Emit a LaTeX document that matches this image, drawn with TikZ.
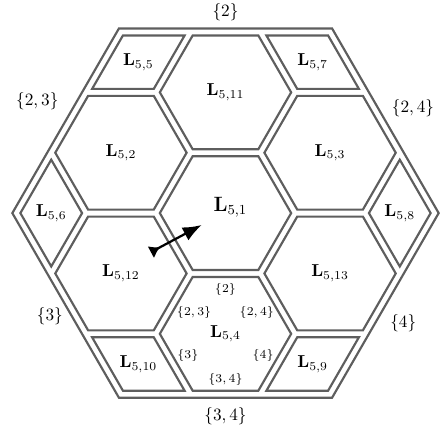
\documentclass[tikz,border=0pt]{standalone}
\usepackage{tikz}
\usetikzlibrary{arrows.meta}
\definecolor{hxgray}{HTML}{5E5E5E}
\definecolor{hxink}{HTML}{000000}
\tikzset{
  hxcell/.style={draw=hxgray, line width=1.25pt, line join=miter},
  hxname/.style={font=\normalsize, text=hxink, inner sep=1pt},
  hxset/.style={font=\normalsize, text=hxink, inner sep=1pt},
  hxsub/.style={font=\scriptsize, text=hxink, inner sep=1pt},
  hxarrow/.style={{Latex[reversed, length=6pt, width=8pt]}-{Latex[length=11pt, width=8.5pt]},
    draw=hxink, line width=1.3pt},
}

\begin{document}
\begin{tikzpicture}[x=1.42cm, y=1.42cm]
\useasboundingbox (-3.235, -3.227) rectangle (3.077, 3.057);

% Outer frame.
\draw[hxcell] (0:3.058) -- (60:3.058) -- (120:3.058) -- (180:3.058)
  -- (240:3.058) -- (300:3.058) -- cycle;

% ----------------------------------------------------------- hexagons
\foreach \a/\d/\k in {0/0/1, 90/1.732/11, 150/1.732/2, 30/1.732/3,
    210/1.732/12, 330/1.732/13, 270/1.732/4} {
  \draw[hxcell, shift={(\a:\d)}] (0:0.942) -- (60:0.942) -- (120:0.942)
    -- (180:0.942) -- (240:0.942) -- (300:0.942) -- cycle;
}
\foreach \a/\k in {90/11, 150/2, 30/3, 210/12, 330/13, 270/4} {
  \node[hxname] (l\k) at (\a:1.732) {$\mathbf{L}_{5,\k}$};
}
\node[hxname, font=\large] (l1) at (0.07, 0.08) {$\mathbf{L}_{5,1}$};

% ------------------------------------------------------------- rhombi
\foreach \a/\k in {0/8, 60/7, 120/5, 180/6, 240/10, 300/9} {
  \draw[hxcell, shift={(\a:2.5)}] (\a:0.4425) -- (\a+90:0.766)
    -- (\a+180:0.4425) -- (\a+270:0.766) -- cycle;
  \node[hxname] (l\k) at (\a:2.5) {$\mathbf{L}_{5,\k}$};
}

% Faces of the outer frame.
\node[hxset] (f2) at (0, 2.885) {$\{2\}$};
\node[hxset] (f23) at (-2.70, 1.60) {$\{2,3\}$};
\node[hxset] (f24) at (2.69, 1.51) {$\{2,4\}$};
\node[hxset] (f3) at (-2.52, -1.48) {$\{3\}$};
\node[hxset] (f4) at (2.55, -1.58) {$\{4\}$};
\node[hxset] (f34) at (0, -2.91) {$\{3,4\}$};

% Faces of L_{5,4}.
\node[hxsub] (s2) at (0, -1.10) {$\{2\}$};
\node[hxsub] (s23) at (-0.45, -1.42) {$\{2,3\}$};
\node[hxsub] (s24) at (0.45, -1.42) {$\{2,4\}$};
\node[hxsub] (s3) at (-0.54, -2.04) {$\{3\}$};
\node[hxsub] (s4) at (0.54, -2.04) {$\{4\}$};
\node[hxsub] (s34) at (0, -2.38) {$\{3,4\}$};

% Arrow across L_{5,12} and L_{5,1}.
\coordinate (arrtail) at (-1.07, -0.56);
\coordinate (arrhead) at (-0.34, -0.17);
\draw[hxarrow] (arrtail) -- (arrhead);

\end{tikzpicture}
\end{document}
